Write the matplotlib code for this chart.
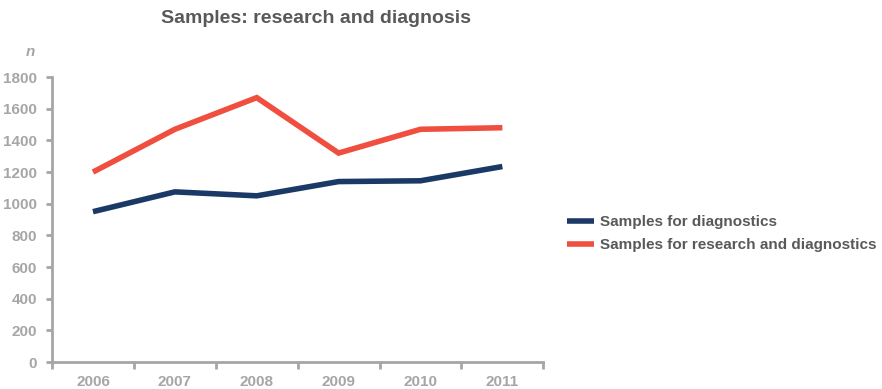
import matplotlib.pyplot as plt
import numpy as np

years = ['2006', '2007', '2008', '2009', '2010', '2011']
diagnostics = [950, 1075, 1050, 1140, 1145, 1235]
research_diag = [1200, 1470, 1670, 1320, 1470, 1480]

navy = '#1b3966'
red = '#f04e3e'
grey = '#a6a6a6'
dark = '#595959'

plt.rcParams['font.family'] = ['Liberation Sans', 'DejaVu Sans']

fig = plt.figure(figsize=(8.82, 3.89), dpi=100)
ax = fig.add_axes([0.059, 0.069, 0.557, 0.733])

x = np.arange(len(years))
ax.plot(x, diagnostics, color=navy, lw=4, label='Samples for diagnostics',
        solid_capstyle='butt', solid_joinstyle='miter')
ax.plot(x, research_diag, color=red, lw=4, label='Samples for research and diagnostics',
        solid_capstyle='butt', solid_joinstyle='miter')

ax.set_xlim(-0.5, len(years) - 0.5)
ax.set_ylim(0, 1800)
ax.set_yticks(range(0, 1801, 200))
ax.set_xticks(x)
ax.set_xticklabels(years)
ax.set_xticks(np.arange(-0.5, len(years)), minor=True)

for s in ['top', 'right']:
    ax.spines[s].set_visible(False)
for s in ['left', 'bottom']:
    ax.spines[s].set_color(grey)
    ax.spines[s].set_linewidth(2)

ax.tick_params(axis='x', which='major', length=0, pad=9)
ax.tick_params(axis='x', which='minor', length=5, width=2, color=grey, direction='out')
ax.tick_params(axis='y', length=4, width=2, color=grey, pad=7)
for lab in ax.get_xticklabels() + ax.get_yticklabels():
    lab.set_color(grey)
    lab.set_fontweight('bold')
    lab.set_fontsize(11)

fig.text(0.358, 0.953, 'Samples: research and diagnosis', ha='center', va='center',
         fontsize=14, fontweight='bold', color=dark)
fig.text(0.034, 0.866, 'n', ha='center', va='center', fontsize=11,
         fontweight='bold', style='italic', color=grey)

leg = ax.legend(loc='center left', bbox_to_anchor=(1.02, 0.45), frameon=False,
                handlelength=1.8, handletextpad=0.35, labelspacing=0.6,
                prop={'weight': 'bold', 'size': 11})
for t in leg.get_texts():
    t.set_color(dark)

fig.savefig('out.png', dpi=100)
